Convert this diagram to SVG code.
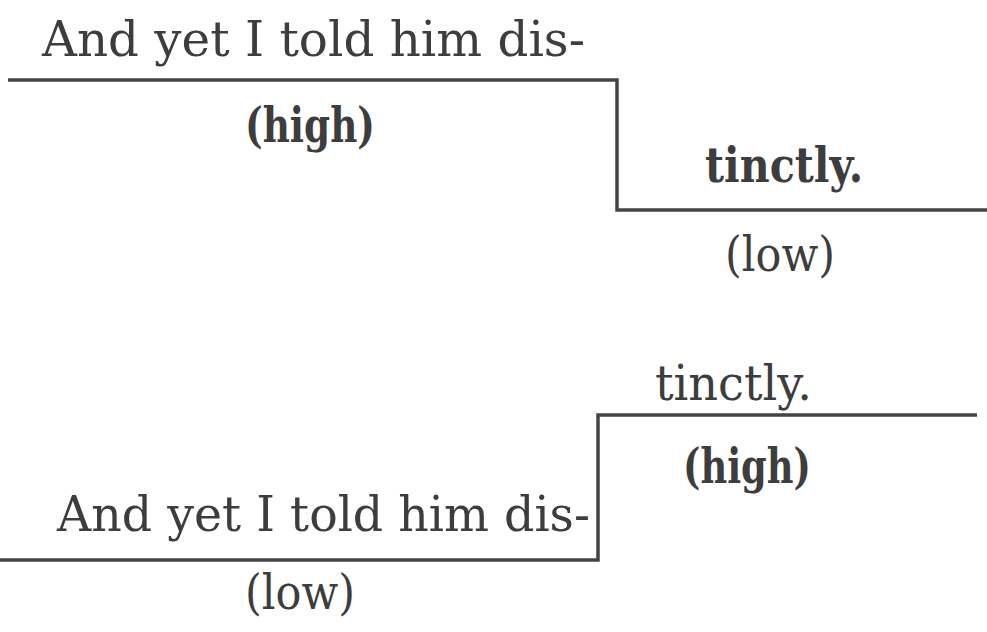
<svg xmlns="http://www.w3.org/2000/svg" width="987" height="632" viewBox="0 0 987 632">
<style>
.t{font-family:"DejaVu Serif","Liberation Serif",serif;font-size:49px;fill:#3d3d3d}
.b{font-weight:bold}
.ln{fill:none;stroke:#444;stroke-width:3.5;stroke-linejoin:miter}
</style>
<rect width="987" height="632" fill="#fff"/>
<g id="connectors">
<polyline class="ln" points="8,80 617,80 617,210 987,210"/>
<polyline class="ln" points="0,560 598,560 598,415 977,415"/>
</g>
<g id="top-high">
<text class="t" x="42" y="56" textLength="543" lengthAdjust="spacingAndGlyphs">And yet I told him  dis-</text>
<text class="t b" x="245" y="142" textLength="130" lengthAdjust="spacingAndGlyphs">(high)</text>
</g>
<g id="top-low">
<text class="t b" x="705" y="182" textLength="158" lengthAdjust="spacingAndGlyphs">tinctly.</text>
<text class="t" x="725" y="271" textLength="110" lengthAdjust="spacingAndGlyphs">(low)</text>
</g>
<g id="bottom-high">
<text class="t" x="655" y="400" textLength="157" lengthAdjust="spacingAndGlyphs">tinctly.</text>
<text class="t b" x="683" y="483" textLength="128" lengthAdjust="spacingAndGlyphs">(high)</text>
</g>
<g id="bottom-low">
<text class="t" x="57" y="531" textLength="533" lengthAdjust="spacingAndGlyphs">And yet I told him dis-</text>
<text class="t" x="245" y="609" textLength="110" lengthAdjust="spacingAndGlyphs">(low)</text>
</g>
</svg>
